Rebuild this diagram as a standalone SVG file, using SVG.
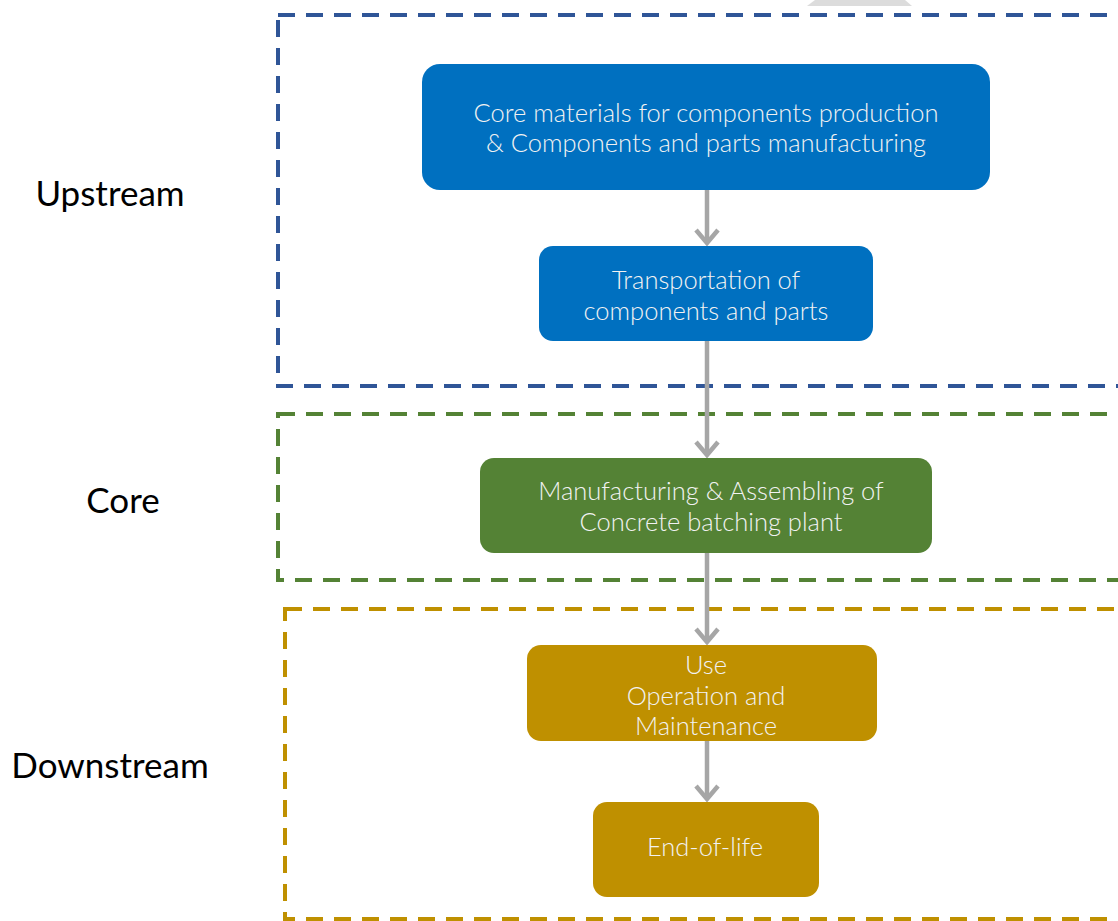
<svg xmlns="http://www.w3.org/2000/svg" width="1118" height="921" viewBox="0 0 1118 921">
<style>
.zone{fill:none;stroke-width:4;stroke-dasharray:17 11}
.lbl{font-family:Lato,"Open Sans","Liberation Sans",sans-serif;font-size:35px;fill:#000}
.nt{font-family:Lato,"Open Sans","Liberation Sans",sans-serif;font-weight:300;font-size:25.5px;fill:#f2f2f2;text-anchor:middle}
.conn{stroke:#a6a6a6;stroke-width:4.5;fill:none}
</style>
<defs>
<marker id="arr" viewBox="0 0 20 26" refX="16" refY="13" markerWidth="20" markerHeight="26" markerUnits="userSpaceOnUse" orient="auto">
<path d="M3,2 L16,13 L3,24" fill="none" stroke="#a6a6a6" stroke-width="4.5"/>
</marker>
</defs>
<rect width="1118" height="921" fill="#fff"/>
<polygon points="815,0 905,0 912,6 807,6" fill="#dcdcdc"/>
<g id="zones">
<rect id="zone-upstream" class="zone" x="278" y="15" width="900" height="371" stroke="#2f5597"/>
<rect id="zone-core" class="zone" x="278" y="414" width="900" height="166" stroke="#548235"/>
<rect id="zone-downstream" class="zone" x="285" y="609" width="900" height="310" stroke="#bf9000"/>
</g>
<g id="labels">
<text class="lbl" x="110" y="206" text-anchor="middle">Upstream</text>
<text class="lbl" x="123" y="513" text-anchor="middle">Core</text>
<text class="lbl" x="110" y="778" text-anchor="middle">Downstream</text>
</g>
<g id="connectors">
<line class="conn" x1="707" y1="190" x2="707" y2="243" marker-end="url(#arr)"/>
<line class="conn" x1="707" y1="341" x2="707" y2="455" marker-end="url(#arr)"/>
<line class="conn" x1="707" y1="553" x2="707" y2="642" marker-end="url(#arr)"/>
<line class="conn" x1="707" y1="741" x2="707" y2="799" marker-end="url(#arr)"/>
</g>
<g id="node1">
<rect x="422" y="64" width="568" height="126" rx="18" fill="#0070c0"/>
<text class="nt" x="706" y="122">Core materials for components production</text>
<text class="nt" x="706" y="152">&amp; Components and parts manufacturing</text>
</g>
<g id="node2">
<rect x="539" y="246" width="334" height="95" rx="14" fill="#0070c0"/>
<text class="nt" x="706" y="289">Transportation of</text>
<text class="nt" x="706" y="320">components and parts</text>
</g>
<g id="node3">
<rect x="480" y="458" width="452" height="95" rx="14" fill="#548235"/>
<text class="nt" x="711" y="500">Manufacturing &amp; Assembling of</text>
<text class="nt" x="711" y="531">Concrete batching plant</text>
</g>
<g id="node4">
<rect x="527" y="645" width="350" height="96" rx="14" fill="#bf9000"/>
<text class="nt" x="706" y="674">Use</text>
<text class="nt" x="706" y="705">Operation and</text>
<text class="nt" x="706" y="735">Maintenance</text>
</g>
<g id="node5">
<rect x="593" y="802" width="226" height="95" rx="14" fill="#bf9000"/>
<text class="nt" x="705" y="856">End-of-life</text>
</g>
</svg>
